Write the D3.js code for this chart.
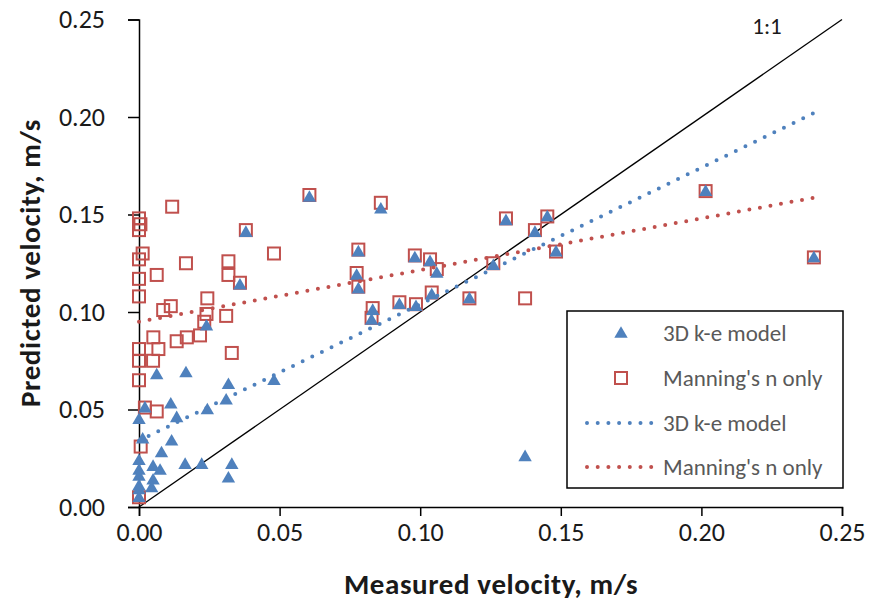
<!DOCTYPE html>
<html><head><meta charset="utf-8">
<script src="https://cdn.jsdelivr.net/npm/d3@7"></script>
<style>
body{margin:0;background:#fff;}
svg{display:block;font-family:Carlito,Lato,"Liberation Sans",sans-serif;}
</style></head><body>
<svg id="c" width="874" height="613"></svg>
<script>
// 3D k-e model: measured (x) vs predicted (y)
const keX = [0.0606,0.0860,0.0780,0.0774,0.0780,0.0981,0.1035,0.1059,0.1305,0.1260,0.1041,0.0926,0.0985,0.1175,0.0831,0.0827,0.1452,0.1408,0.1483,0.2015,0.2400,0.0380,0.0359,0.1373,
  0.0063,0.0167,0.0318,0.0310,0.0243,0.0480,0.0021,0.0113,0.0134,0.0000,0.0013,0.0116,0.0080,0.0000,0.0000,0.0000,0.0000,0.0000,0.0050,0.0075,0.0050,0.0045,0.0164,0.0223,0.0330,0.0318,0.0000,0.0240];
const keY = [0.159,0.153,0.131,0.119,0.112,0.128,0.126,0.120,0.147,0.124,0.109,0.104,0.103,0.107,0.101,0.096,0.149,0.141,0.131,0.162,0.128,0.141,0.114,0.026,
  0.068,0.069,0.063,0.055,0.050,0.065,0.051,0.053,0.046,0.045,0.035,0.034,0.028,0.024,0.019,0.016,0.011,0.009,0.021,0.019,0.014,0.010,0.022,0.022,0.022,0.015,0.005,0.093];
// Manning's n only
const mnX = [0.0606,0.0860,0.0780,0.0774,0.0780,0.0981,0.1035,0.1059,0.1305,0.1260,0.1041,0.0926,0.0985,0.1175,0.0831,0.0827,0.1452,0.1408,0.1483,0.2015,0.2400,0.0380,0.0359,0.1373,0.0480,
  0.0118,0.0000,0.0005,0.0000,0.0013,0.0000,0.0167,0.0318,0.0318,0.0063,0.0000,0.0000,0.0243,0.0113,0.0086,0.0240,0.0310,0.0232,0.0330,0.0000,0.0000,0.0051,0.0069,0.0050,0.0134,0.0170,0.0217,0.0000,0.0021,0.0063,0.0006,0.0000];
const mnY = [0.160,0.156,0.132,0.120,0.113,0.129,0.127,0.122,0.148,0.125,0.110,0.105,0.104,0.107,0.102,0.097,0.149,0.142,0.131,0.162,0.128,0.142,0.115,0.107,0.130,
  0.154,0.148,0.145,0.142,0.130,0.127,0.125,0.126,0.119,0.119,0.117,0.108,0.107,0.103,0.101,0.099,0.098,0.095,0.079,0.081,0.075,0.087,0.081,0.075,0.085,0.087,0.088,0.065,0.051,0.049,0.031,0.005];
// linear trendlines (as drawn): x range and coefficients
const trendRange = [0.0, 0.24];
const keTrend = {slope:0.700, intercept:0.034};
const mnTrend = {slope:0.265, intercept:0.095};
const ticks = [0, 0.05, 0.10, 0.15, 0.20, 0.25];
const legendLabels = ["3D k-e model","Manning's n only","3D k-e model","Manning's n only"];

const BLUE="#4F81BD", RED="#C0504D";
const svg = d3.select("#c");
const x = d3.scaleLinear().domain([0,0.25]).range([139,842]);
const y = d3.scaleLinear().domain([0,0.25]).range([507,19.5]);

// axes
const ax = svg.append("g").attr("transform","translate(0,507)")
  .call(d3.axisBottom(x).tickValues(ticks).tickFormat(d3.format(".2f")).tickSizeOuter(0).tickSize(9).tickPadding(7));
const ay = svg.append("g").attr("transform","translate(139,0)")
  .call(d3.axisLeft(y).tickValues(ticks).tickFormat(d3.format(".2f")).tickSizeOuter(0).tickSize(11).tickPadding(23));
[ax,ay].forEach(g=>{
  g.select(".domain").attr("stroke","#000").attr("stroke-width",1.5);
  g.selectAll(".tick line").attr("stroke","#000").attr("stroke-width",1.5);
  g.selectAll(".tick text").attr("fill","#1a1a1a").style("font-size","26px").style("font-family","Carlito,Lato,sans-serif");
});

// 1:1 line
svg.append("line").attr("x1",x(0)).attr("y1",y(0)).attr("x2",x(0.25)).attr("y2",y(0.25))
  .attr("stroke","#000").attr("stroke-width",1.3);
svg.append("text").attr("x",767).attr("y",34).attr("text-anchor","middle")
  .style("font-size","23px").attr("fill","#1a1a1a").text("1:1");

// markers
const sq = 12;
svg.append("g").selectAll("rect").data(d3.range(mnX.length)).join("rect")
  .attr("x",i=>x(mnX[i])-sq/2).attr("y",i=>y(mnY[i])-sq/2).attr("width",sq).attr("height",sq)
  .attr("fill","none").attr("stroke",RED).attr("stroke-width",2);
const tri = d3.symbol().type(d3.symbolTriangle).size(78);
svg.append("g").selectAll("path").data(d3.range(keX.length)).join("path")
  .attr("d",tri).attr("transform",i=>`translate(${x(keX[i])},${y(keY[i])+1})`)
  .attr("fill",BLUE);

// trendlines
function trend(t,color){
  svg.append("line").attr("x1",x(trendRange[0])).attr("y1",y(t.intercept+t.slope*trendRange[0]))
    .attr("x2",x(trendRange[1])).attr("y2",y(t.intercept+t.slope*trendRange[1]))
    .attr("stroke",color).attr("stroke-width",4).attr("stroke-linecap","round").attr("stroke-dasharray","0 10.7");
}
trend(keTrend,BLUE);
trend(mnTrend,RED);

// axis titles
svg.append("text").attr("x",491).attr("y",594).attr("text-anchor","middle")
  .style("font-size","29px").style("font-weight","bold").style("letter-spacing","0.6px").attr("fill","#1a1a1a").text("Measured velocity, m/s");
svg.append("text").attr("transform","translate(40,263) rotate(-90)").attr("text-anchor","middle")
  .style("font-size","29px").style("font-weight","bold").style("letter-spacing","0.6px").attr("fill","#1a1a1a").text("Predicted velocity, m/s");

// legend
const lg = svg.append("g");
lg.append("rect").attr("x",567).attr("y",311).attr("width",276).attr("height",177)
  .attr("fill","#fff").attr("stroke","#000").attr("stroke-width",1.5);
const rowY = [333,378,423,467];
lg.append("path").attr("d",tri).attr("transform",`translate(621,${rowY[0]+1})`).attr("fill",BLUE);
lg.append("rect").attr("x",621-6).attr("y",rowY[1]-6).attr("width",12).attr("height",12)
  .attr("fill","none").attr("stroke",RED).attr("stroke-width",2);
[[BLUE,rowY[2]],[RED,rowY[3]]].forEach(([c,yy])=>{
  lg.append("line").attr("x1",587).attr("x2",654).attr("y1",yy).attr("y2",yy)
    .attr("stroke",c).attr("stroke-width",4).attr("stroke-linecap","round").attr("stroke-dasharray","0 10.7");
});
legendLabels.forEach((t,i)=>{
  lg.append("text").attr("x",663).attr("y",rowY[i]).attr("dy","0.35em")
    .style("font-size","23px").attr("fill","#595959").text(t);
});
</script></body></html>
